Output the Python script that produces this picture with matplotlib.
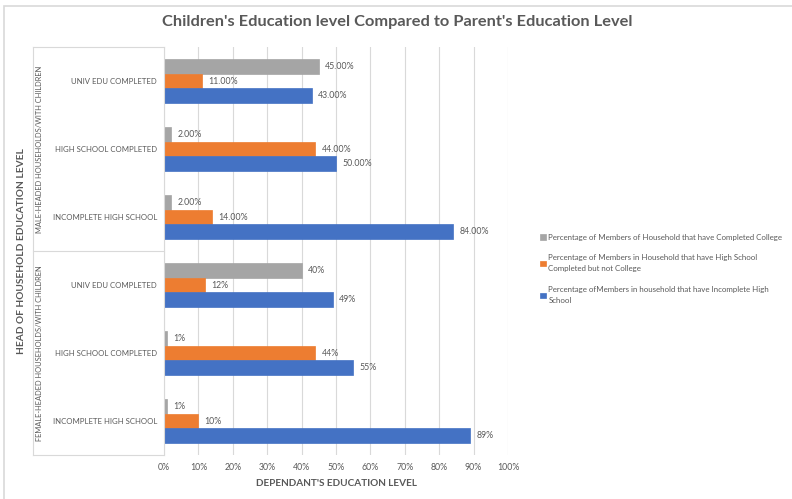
import matplotlib
matplotlib.use("Agg")
import matplotlib.pyplot as plt
from matplotlib.patches import Rectangle
import numpy as np

plt.rcParams["font.family"] = ["Lato", "DejaVu Sans"]

# categories, top to bottom
GROUPS = ["MALE-HEADED HOUSEHOLDS/WITH CHILDREN",
          "FEMALE-HEADED HOUSEHOLDS/WITH CHILDREN"]
LEVELS = ["UNIV EDU COMPLETED", "HIGH SCHOOL COMPLETED", "INCOMPLETE HIGH SCHOOL"]
college = [45, 2, 2, 40, 1, 1]
high_school = [11, 44, 14, 12, 44, 10]
incomplete = [43, 50, 84, 49, 55, 89]
label_fmt = ["{:.2f}%"] * 3 + ["{:.0f}%"] * 3
SERIES = ["Percentage of Members of Household that have Completed College",
          "Percentage of Members in Household that have High School\nCompleted but not College",
          "Percentage ofMembers in household that have Incomplete High\nSchool"]

GREY, ORANGE, BLUE = "#a5a5a5", "#ed7d31", "#4472c4"
INK, LINE = "#595959", "#d9d9d9"

fig = plt.figure(figsize=(7.92, 4.99), dpi=100)
W, H = 792.0, 499.0
ax = fig.add_axes([164 / W, 1 - 455 / H, 344 / W, 408 / H])

y = np.arange(len(college))
h = 0.22
bars = []
for vals, off, col in ((college, -h, GREY), (high_school, 0.0, ORANGE),
                       (incomplete, h, BLUE)):
    b = ax.barh(y + off, np.array(vals) / 100.0, height=h, color=col,
                edgecolor=col, linewidth=0.5, zorder=2)
    bars.append(b)
    for yi, v, fmt in zip(y + off, vals, label_fmt):
        ax.annotate(fmt.format(v), (v / 100.0, yi), xytext=(4.5, 0),
                    textcoords="offset points", va="center", ha="left",
                    fontsize=6.3, color=INK)

ax.set_xlim(0, 1)
ax.set_ylim(len(college) - 0.5, -0.5)
ticks = np.arange(0, 1.01, 0.1)
ax.set_xticks(ticks)
ax.set_xticklabels([f"{int(round(t * 100))}%" for t in ticks])
ax.tick_params(axis="x", length=0, pad=6, labelsize=6.3, labelcolor=INK)
ax.set_yticks([])
ax.grid(axis="x", color=LINE, lw=0.8, zorder=0)
ax.set_axisbelow(True)
for s in ("top", "right", "bottom"):
    ax.spines[s].set_visible(False)
ax.spines["left"].set_color(LINE)
ax.spines["left"].set_linewidth(0.8)

# multi-level category axis drawn to the left of the plot
tr = ax.get_yaxis_transform()
xl = -131 / 344.0
for yy in (-0.5, 2.5, 5.5):
    ax.plot([xl, 0], [yy, yy], transform=tr, color=LINE, lw=0.8, clip_on=False)
ax.plot([xl, xl], [-0.5, 5.5], transform=tr, color=LINE, lw=0.8, clip_on=False)
for i, yi in enumerate(y):
    ax.text(-7 / 344.0, yi, LEVELS[i % 3], transform=tr, ha="right",
            va="center", fontsize=5.6, color=INK)
for g, name in enumerate(GROUPS):
    ax.text(xl + 7 / 344.0, 1 + 3 * g, name, transform=tr, rotation=90,
            ha="center", va="center", fontsize=5.4, color=INK)

fig.text(22 / W, 1 - 251 / H, "HEAD OF HOUSEHOLD EDUCATION LEVEL",
         rotation=90, ha="center", va="center", fontsize=7.3,
         fontweight="bold", color=INK)
fig.text(337 / W, 1 - 483 / H, "DEPENDANT'S EDUCATION LEVEL",
         ha="center", va="center", fontsize=7.2, fontweight="bold", color=INK)
fig.text(397 / W, 1 - 22 / H,
         "Children's Education level Compared to Parent's Education Level",
         ha="center", va="center", fontsize=11.8, fontweight="bold",
         color=INK)

leg = fig.legend([bars[0], bars[1], bars[2]], SERIES, loc="center left",
                 bbox_to_anchor=(533 / W, 1 - 269 / H), frameon=False,
                 fontsize=5.65, handlelength=0.7, handleheight=0.7,
                 handletextpad=0.35, labelspacing=1.7, labelcolor=INK)
for t in leg.get_texts():
    t.set_linespacing(1.75)

fig.patches.append(Rectangle((4 / W, -0.1), 1.2, 1 - 6 / H + 0.1,
                             transform=fig.transFigure, fill=False,
                             edgecolor=LINE, lw=1.2))

fig.savefig("out.png", dpi=100)
